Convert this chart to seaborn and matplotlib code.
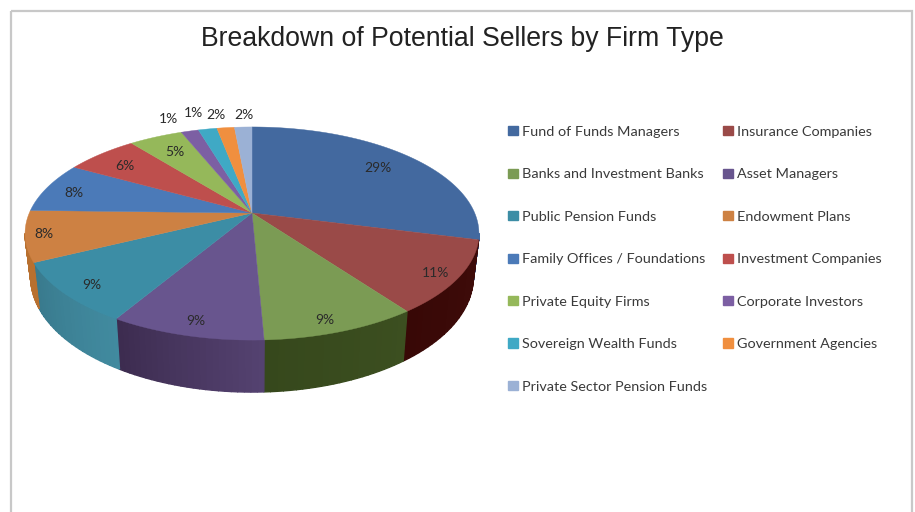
import numpy as np
import matplotlib
matplotlib.use('Agg')
import matplotlib.pyplot as plt
from matplotlib.colors import to_rgb
from matplotlib.patches import Patch, Rectangle
import seaborn as sns

firm_types = ['Fund of Funds Managers', 'Insurance Companies', 'Banks and Investment Banks',
              'Asset Managers', 'Public Pension Funds', 'Endowment Plans',
              'Family Offices / Foundations', 'Investment Companies', 'Private Equity Firms',
              'Corporate Investors', 'Sovereign Wealth Funds', 'Government Agencies',
              'Private Sector Pension Funds']
shares = [29.0, 11.0, 9.3, 9.2, 9.2, 7.7, 7.7, 6.2, 4.6, 1.5, 1.6, 1.5, 1.5]
share_labels = ['29%', '11%', '9%', '9%', '9%', '8%', '8%', '6%', '5%', '1%', '1%', '2%', '2%']
top_colors = ['#43699f', '#9a4a48', '#7b9b54', '#68558e', '#3c8da5', '#cd8143', '#4b7ab8',
              '#be4f4d', '#95b85a', '#7c5fa3', '#3fa9c5', '#f08f3f', '#9bb1d5']
wall_left = ['#43699f', '#3f0c0a', '#3c4f20', '#544270', '#418a9f', '#b8702f']
wall_right = ['#43699f', '#380806', '#36481c', '#3d2c50', '#397a8d', '#b8702f']

sns.set_theme(style='white')
plt.rcParams['font.family'] = ['Lato', 'DejaVu Sans']
palette = sns.color_palette(top_colors)

fig, ax = plt.subplots(figsize=(9.15, 5.12), dpi=100)
ax.set_position([0, 0, 1, 1])
ax.set_xlim(0, 915)
ax.set_ylim(512, 0)
ax.axis('off')

# pie tilted in perspective, apex is above the middle of the ellipse
cx, cy = 252, 213
a, b, c = 222.7, 102.6, 0.1925
depth = 42


def project(theta, r=1.0):
    x = r * np.sin(theta)
    y = r * np.cos(theta)
    w = 1 + c * y
    return a * x / w, b * y / w, w


def rim(theta):
    X, Y, w = project(theta)
    return cx + X, cy - Y


def base(theta):
    X, Y, w = project(theta)
    return cx + 0.975 * X, cy - Y + depth / w


edges = np.radians(np.cumsum([0] + shares) * 3.6)

# side wall first, only the part facing the viewer
vis_start, vis_end = np.radians(101), np.radians(259)
for i in range(len(wall_left)):
    t0, t1 = max(edges[i], vis_start), min(edges[i + 1], vis_end)
    if t1 <= t0:
        continue
    steps = np.linspace(t0, t1, 25)
    for k in range(len(steps) - 1):
        f = k / (len(steps) - 2)
        col = (1 - f) * np.array(to_rgb(wall_left[i])) + f * np.array(to_rgb(wall_right[i]))
        t = np.linspace(steps[k], steps[k + 1], 4)
        xt, yt = rim(t)
        xb, yb = base(t)
        ax.fill(np.r_[xt, xb[::-1]], np.r_[yt, yb[::-1]], color=col, lw=1.0)

# how far out each label sits, and the sideways push Excel gave some of them
label_r = [0.78, 0.9, 0.9, 0.9, 0.9, 0.92, 0.85, 0.8, 0.78, 1.2, 1.2, 1.2, 1.2]
label_push = {1: (0, 2), 2: (-6, 3), 3: (2, 0), 4: (6, 1), 6: (-3, 2), 7: (-4, 1),
              9: (-11, 1), 10: (-7, -2), 11: (-5, 1), 12: (2, 2)}

# top of the pie
for i in range(len(shares)):
    t = np.linspace(edges[i], edges[i + 1], 80)
    xt, yt = rim(t)
    ax.fill(np.r_[cx, xt], np.r_[cy, yt], color=palette[i], lw=0.3)

    mid = (edges[i] + edges[i + 1]) / 2
    X, Y, w = project(mid, label_r[i])
    dx, dy = label_push.get(i, (0, 0))
    ax.text(cx + X + dx, cy - Y + dy, share_labels[i], ha='center', va='center', fontsize=10, color='#2a2a2a')

ax.text(462, 39, 'Breakdown of Potential Sellers by Firm Type', ha='center', va='center',
        fontsize=19.2, family='Liberation Sans', color='#222222')

# frame around the chart runs off the bottom of the image
ax.add_patch(Rectangle((10.5, 10.5), 901, 520, fill=False, edgecolor='#c8c8c8', lw=1.6))

# legend reads across rows in the original
order = list(range(0, len(firm_types), 2)) + list(range(1, len(firm_types), 2))
handles = [Patch(color=palette[i], label=firm_types[i]) for i in order]
ax.legend(handles=handles, ncol=2, frameon=False, loc='upper left', bbox_to_anchor=(508 / 915, 1 - 126 / 512),
          fontsize=10.4, labelspacing=2.106, handlelength=0.7, handleheight=0.6, handletextpad=0.3,
          columnspacing=1.05, labelcolor='#3a3a3a', borderpad=0, borderaxespad=0)

fig.savefig('out.png', dpi=100)
